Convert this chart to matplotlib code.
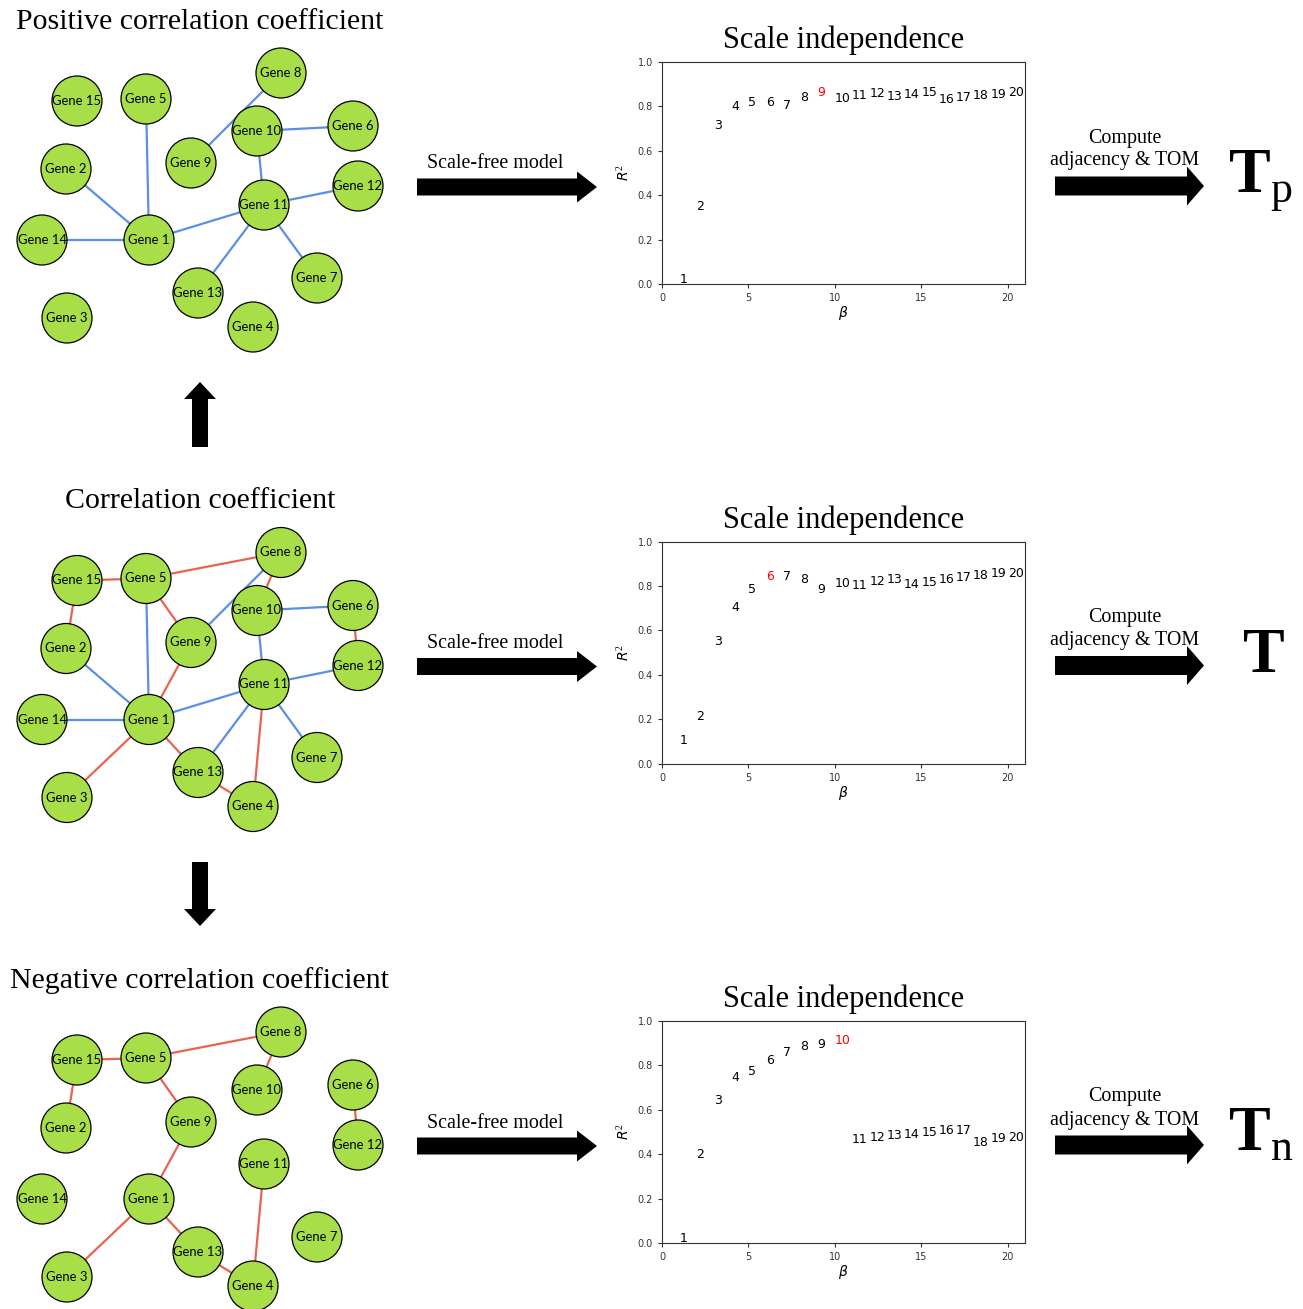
import matplotlib
matplotlib.use("Agg")
import matplotlib.pyplot as plt
from matplotlib.patches import Circle, FancyArrow

W, H = 1303, 1309

# node layout of the gene network (pixel coords inside a panel)
genes = {
    "Gene 1": (149, 240), "Gene 2": (66, 169), "Gene 3": (67, 318),
    "Gene 4": (253, 327), "Gene 5": (146, 99), "Gene 6": (353, 126),
    "Gene 7": (317, 278), "Gene 8": (281, 73), "Gene 9": (191, 163),
    "Gene 10": (257, 131), "Gene 11": (264, 205), "Gene 12": (358, 186),
    "Gene 13": (198, 293), "Gene 14": (42, 240), "Gene 15": (77, 101),
}
pos_edges = [("Gene 5", "Gene 1"), ("Gene 9", "Gene 8"), ("Gene 2", "Gene 1"),
             ("Gene 14", "Gene 1"), ("Gene 1", "Gene 11"), ("Gene 10", "Gene 11"),
             ("Gene 10", "Gene 6"), ("Gene 11", "Gene 12"), ("Gene 11", "Gene 13"),
             ("Gene 11", "Gene 7")]
neg_edges = [("Gene 15", "Gene 5"), ("Gene 5", "Gene 8"), ("Gene 5", "Gene 9"),
             ("Gene 15", "Gene 2"), ("Gene 8", "Gene 10"), ("Gene 6", "Gene 12"),
             ("Gene 9", "Gene 1"), ("Gene 1", "Gene 3"), ("Gene 1", "Gene 13"),
             ("Gene 13", "Gene 4"), ("Gene 11", "Gene 4")]

# scale-free fit R^2 for soft-threshold powers 1..20
beta = list(range(1, 21))
r2_pos = [0.005, 0.333, 0.70, 0.785, 0.803, 0.803, 0.79, 0.823, 0.845, 0.82,
          0.833, 0.842, 0.83, 0.836, 0.845, 0.815, 0.826, 0.833, 0.836, 0.845]
r2_all = [0.087, 0.198, 0.536, 0.685, 0.769, 0.827, 0.827, 0.815, 0.77, 0.796,
          0.787, 0.803, 0.814, 0.79, 0.799, 0.814, 0.823, 0.832, 0.838, 0.841]
r2_neg = [0.003, 0.381, 0.628, 0.731, 0.755, 0.808, 0.841, 0.868, 0.878, 0.895,
          0.452, 0.461, 0.47, 0.473, 0.483, 0.49, 0.492, 0.435, 0.456, 0.461]

rows = [
    dict(title="Positive correlation coefficient", edges=pos_edges, r2=r2_pos, pick=9,
         result=r"$\mathbf{T}_{\mathrm{p}}$"),
    dict(title="Correlation coefficient", edges=pos_edges + neg_edges, r2=r2_all, pick=6,
         result=r"$\mathbf{T}$"),
    dict(title="Negative correlation coefficient", edges=neg_edges, r2=r2_neg, pick=10,
         result=r"$\mathbf{T}_{\mathrm{n}}$"),
]
row_step = 479.5

node_green = "#a8df48"
blue = "#5b8ee6"
red = "#e8644e"
serif = "Liberation Serif"

plt.rcParams["mathtext.fontset"] = "custom"
plt.rcParams["mathtext.rm"] = "Liberation Serif"
plt.rcParams["mathtext.bf"] = "Liberation Serif:bold"

fig = plt.figure(figsize=(W / 100, H / 100), dpi=100)
canvas = fig.add_axes([0, 0, 1, 1])
canvas.set_xlim(0, W)
canvas.set_ylim(H, 0)
canvas.axis("off")


def px_axes(left, top, right, bottom):
    return fig.add_axes([left / W, 1 - bottom / H, (right - left) / W, (bottom - top) / H])


def draw_arrow(x0, y0, x1, y1, width, head_w, head_l):
    canvas.add_patch(FancyArrow(x0, y0, x1 - x0, y1 - y0, width=width, head_width=head_w,
                                head_length=head_l, length_includes_head=True,
                                color="black", lw=0))


for i, row in enumerate(rows):
    dy = i * row_step

    canvas.text(200, 22 + dy, row["title"], ha="center", va="center",
                fontsize=21.5, family=serif)

    pos_set = set(pos_edges)
    for a, b in row["edges"]:
        (xa, ya), (xb, yb) = genes[a], genes[b]
        c = blue if (a, b) in pos_set else red
        canvas.plot([xa, xb], [ya + dy, yb + dy], color=c, lw=1.6, zorder=1)
    for name, (x, y) in genes.items():
        canvas.add_patch(Circle((x, y + dy), 25, facecolor=node_green,
                                edgecolor="black", lw=0.9, zorder=2))
        canvas.text(x, y + dy, name, ha="center", va="center", fontsize=9.4,
                    family="Lato", zorder=3)

    # scale-free fitting arrow
    canvas.text(495, 164 + dy, "Scale-free model", ha="center", va="center",
                fontsize=14.4, family=serif)
    draw_arrow(417, 187 + dy, 597, 187 + dy, 17, 31, 20)

    # TOM arrow and resulting matrix
    canvas.text(1125, 138 + dy, "Compute", ha="center", va="center",
                fontsize=14.4, family=serif)
    canvas.text(1125, 161 + dy, "adjacency & TOM", ha="center", va="center",
                fontsize=14.4, family=serif)
    draw_arrow(1055, 186 + dy, 1204, 186 + dy, 19, 39, 17)
    tx = 1228 if "_" in row["result"] else 1242
    canvas.text(tx, 192 + dy, row["result"], ha="left", va="baseline", fontsize=45)

    # scale independence panel
    ax = px_axes(662, 62 + dy, 1025, 284 + dy)
    for b, r in zip(beta, row["r2"]):
        ax.text(b, r, str(b), fontsize=9, color="red" if b == row["pick"] else "black")
    ax.set_xlim(0, 21)
    ax.set_ylim(0, 1)
    ax.set_xticks([0, 5, 10, 15, 20])
    ax.set_yticks([0, 0.2, 0.4, 0.6, 0.8, 1.0])
    ax.tick_params(labelsize=7, length=3, colors="#333333")
    for s in ax.spines.values():
        s.set_color("#333333")
    ax.set_title("Scale independence", fontsize=22, family=serif, pad=10)
    ax.set_xlabel(r"$\beta$", fontsize=10, labelpad=1)
    ax.set_ylabel(r"$R^2$", fontsize=10, labelpad=4)

# arrows between the network panels
draw_arrow(200, 447, 200, 382, 16, 32, 17)
draw_arrow(200, 862, 200, 926, 16, 32, 17)

fig.savefig("out.png", dpi=100)
